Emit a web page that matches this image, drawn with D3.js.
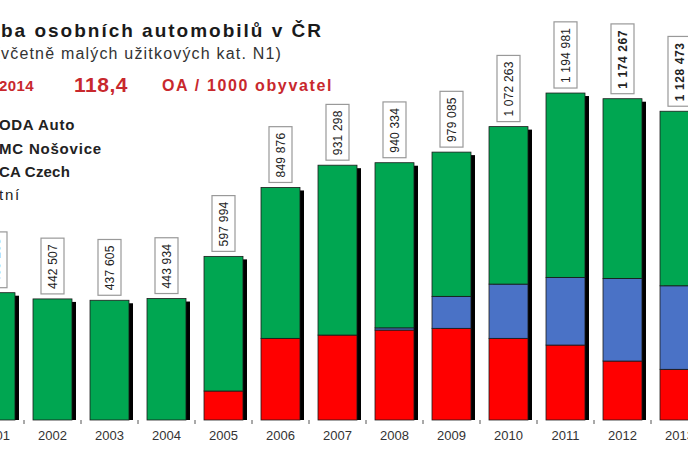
<!DOCTYPE html>
<html><head><meta charset="utf-8">
<script src="https://cdn.jsdelivr.net/npm/d3@7"></script>
<style>html,body{margin:0;padding:0;background:#fff;overflow:hidden}svg{display:block}</style>
</head><body><svg id="c" width="688" height="459"></svg>
<script>
const years = ["2001","2002","2003","2004","2005","2006","2007","2008","2009","2010","2011","2012","2013"];
const tpca  = [0,0,0,0,105900,298400,310400,328700,335000,298400,273900,215500,185200];
const hmc   = [0,0,0,0,0,0,0,8000,116900,198300,247300,302000,305300];
const skoda = [465268,442507,437605,443934,492094,551476,620898,603634,527185,575563,673781,656767,637973];
const totals = [465268,442507,437605,443934,597994,849876,931298,940334,979085,1072263,1194981,1174267,1128473];
const totalLabels = ["465 268","442 507","437 605","443 934","597 994","849 876","931 298","940 334","979 085","1 072 263","1 194 981","1 174 267","1 128 473"];
const seriesNames = ["ŠKODA Auto","HMC Nošovice","TPCA Czech","Ostatní"];
const seriesColors = ["#00a651","#4a72c6","#ff0000","#ffffff"];
const titleText = "Výroba osobních automobilů v ČR";
const subtitleText = "(včetně malých užitkových kat. N1)";

const svg = d3.select("#c");
const ff = "Liberation Sans, Arial, sans-serif";
const x = d3.scaleBand().domain(years).range([-33, 708]).paddingInner(0.316).paddingOuter(0.158);
const y = d3.scaleLinear().domain([0, 1535000]).range([420, 0]);

const rows = years.map((yr,i)=>({year:yr, tpca:tpca[i], hmc:hmc[i], skoda:skoda[i]}));
const stack = d3.stack().keys(["tpca","hmc","skoda"])(rows);
const colorOf = {tpca:"#ff0000", hmc:"#4a72c6", skoda:"#00a651"};

// shadows
svg.append("g").selectAll("rect").data(years).join("rect")
  .attr("x", d=>x(d)+4).attr("y", (d,i)=>y(totals[i])+3)
  .attr("width", x.bandwidth()).attr("height", (d,i)=>420-(y(totals[i])+3))
  .attr("fill","#000");

svg.append("g").selectAll("g").data(stack).join("g")
  .attr("fill", d=>colorOf[d.key])
  .selectAll("rect").data(d=>d.filter(s=>s[1]-s[0]>0)).join("rect")
  .attr("x", d=>x(d.data.year)).attr("y", d=>y(d[1]))
  .attr("width", x.bandwidth()).attr("height", d=>y(d[0])-y(d[1]))
  .attr("stroke","#1a1a1a").attr("stroke-width",0.8);

// ticks at band boundaries
const tg = svg.append("g");
years.forEach((d,i)=>{
  const bx = x(d) + x.bandwidth()/2 + x.step()/2;
  tg.append("line").attr("x1",bx).attr("x2",bx).attr("y1",420).attr("y2",424).attr("stroke","#555").attr("stroke-width",1);
});
// x labels
svg.append("g").selectAll("text").data(years).join("text")
  .attr("x", d=>x(d)+x.bandwidth()/2).attr("y", 440)
  .attr("text-anchor","middle").attr("font-family",ff)
  .attr("font-size",13).attr("fill","#333").text(d=>d);

// value label boxes
const lg = svg.append("g");
years.forEach((d,i)=>{
  const cx = x(d)+x.bandwidth()/2;
  const bottom = y(totals[i]) - 5;
  const bold = i >= 11;
  const t = lg.append("text")
    .attr("transform", `translate(${cx},${bottom-5}) rotate(-90)`)
    .attr("text-anchor","start").attr("dy","0.35em")
    .attr("font-family",ff)
    .attr("font-size", 12).attr("font-weight", bold ? "bold" : "normal")
    .attr("letter-spacing", bold ? 0.6 : 0.2)
    .attr("fill","#222").text(totalLabels[i]);
  const len = t.node().getComputedTextLength();
  lg.insert("rect","text")
    .attr("x", cx-11.5).attr("y", bottom-len-11).attr("width",23).attr("height",len+11)
    .attr("fill","#fff").attr("stroke","#999").attr("stroke-width",1.2);
});

// place a text whose first `cut` chars lie left of the frame so that the rest spans [x0, x1]
function fitCropped(t, cut, x0, x1){
  const node = t.node();
  const n = node.getNumberOfChars();
  const pre = cut > 0 ? node.getSubStringLength(0, cut) : 0;
  const vis = node.getSubStringLength(cut, n - cut);
  const ls = (x1 - x0 - vis) / (n - cut);
  t.attr("letter-spacing", ls).attr("x", x0 - pre - cut*ls);
}

const title = svg.append("text").attr("y",37)
  .attr("font-family",ff).attr("font-size",19).attr("font-weight","bold")
  .attr("fill","#1a1a1a").text(titleText);
fitCropped(title, 4, 1, 323);
const sub = svg.append("text").attr("y",59)
  .attr("font-family",ff).attr("font-size",16).attr("fill","#333").text(subtitleText);
fitCropped(sub, 1, 1, 282);

const red = "#c8282d";
const yr = svg.append("text").attr("y",91)
  .attr("font-family",ff).attr("font-size",15).attr("font-weight","bold").attr("fill",red).text("Rok 2014");
fitCropped(yr, 4, -1, 34);
const v = svg.append("text").attr("y",92)
  .attr("font-family",ff).attr("font-size",21).attr("font-weight","bold").attr("fill",red).text("118,4");
fitCropped(v, 0, 74, 128);
const u = svg.append("text").attr("y",91)
  .attr("font-family",ff).attr("font-size",16).attr("font-weight","bold").attr("fill",red).text("OA / 1000 obyvatel");
fitCropped(u, 0, 162, 333);

// legend (cropped at left edge)
const legCut = [2, 1, 2, 4];
const legEnds = [75, 102, 70, 21];
const legY = [130, 154, 177, 200];
seriesNames.forEach((n,i)=>{
  const t = svg.append("text").attr("y",legY[i])
    .attr("font-family",ff).attr("font-size",15).attr("font-weight", i<3?"bold":"normal")
    .attr("fill","#222").text(n);
  fitCropped(t, legCut[i], -1, legEnds[i]);
  svg.append("rect").attr("x",-80).attr("y",legY[i]-11).attr("width",12).attr("height",12)
    .attr("fill",seriesColors[i]).attr("stroke","#000");
});
</script></body></html>
